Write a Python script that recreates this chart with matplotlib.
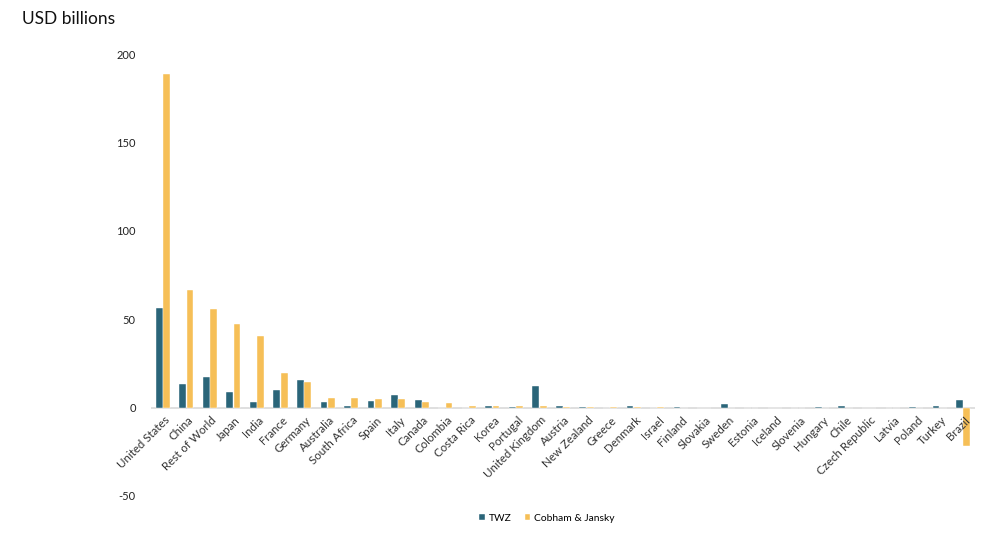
import numpy as np
import matplotlib.pyplot as plt

plt.rcParams['font.family'] = ['Lato', 'DejaVu Sans']

countries = ["United States", "China", "Rest of World", "Japan", "India", "France",
             "Germany", "Australia", "South Africa", "Spain", "Italy", "Canada",
             "Colombia", "Costa Rica", "Korea", "Portugal", "United Kingdom", "Austria",
             "New Zealand", "Greece", "Denmark", "Israel", "Finland", "Slovakia",
             "Sweden", "Estonia", "Iceland", "Slovenia", "Hungary", "Chile",
             "Czech Republic", "Latvia", "Poland", "Turkey", "Brazil"]
twz = [56.5, 13.6, 17.5, 9.0, 3.0, 10.2, 15.8, 3.4, 1.0, 4.0, 7.0, 4.5,
       0.0, 0.0, 0.8, 0.3, 12.0, 0.7, 0.3, 0.0, 0.7, 0.0, 0.3, 0.0,
       1.8, 0.0, 0.0, 0.0, 0.3, 0.8, 0.0, 0.0, 0.6, 0.8, 4.1]
cj = [188.7, 66.7, 56.0, 47.0, 40.7, 19.8, 14.7, 5.6, 5.6, 5.0, 4.7, 3.0,
      2.4, 0.7, 0.8, 0.7, 0.7, 0.3, 0.3, 0.3, 0.3, 0.3, 0.0, 0.0,
      0.0, 0.0, 0.0, 0.0, 0.0, 0.0, 0.0, 0.0, 0.0, -0.5, -22.0]

c_twz = '#2a6579'
c_cj = '#f6bf57'

fig = plt.figure(figsize=(10, 5.39), dpi=100)
ax = fig.add_axes([0.151, 0.0798, 0.824, 0.82])

x = np.arange(len(countries))
w = 0.29
ax.bar(x - w / 2 - 0.01, twz, w, color=c_twz, edgecolor='white', linewidth=0.3, label='TWZ')
ax.bar(x + w / 2 + 0.01, cj, w, color=c_cj, edgecolor='white', linewidth=0.3, label='Cobham & Jansky')

ax.axhline(0, color='#d9d9d9', linewidth=1.2, zorder=0)
ax.set_xlim(-0.5, len(countries) - 0.5)
ax.set_ylim(-50, 200)
ax.set_yticks([-50, 0, 50, 100, 150, 200])
ax.set_yticklabels(['-50', '0', '50', '100', '150', '200'])
ax.tick_params(axis='y', length=0, pad=11, labelsize=8, colors='#222222')
ax.set_xticks([])
for s in ax.spines.values():
    s.set_visible(False)

# country labels hang from the zero line
for xi, name in zip(x, countries):
    ax.annotate(name, xy=(xi + 0.05, 0), xytext=(0, -5), textcoords='offset points',
                rotation=45, ha='right', va='top', rotation_mode='anchor',
                fontsize=8.3, color='#333333')

fig.text(0.022, 0.965, 'USD billions', fontsize=12.5, color='#111111', va='center')

h, l = ax.get_legend_handles_labels()
fig.legend(h, l, loc='center', bbox_to_anchor=(0.547, 0.038), ncol=2, frameon=False,
           fontsize=7.4, handlelength=0.55, handleheight=0.55, handletextpad=0.35,
           columnspacing=1.3)

fig.savefig('out.png', dpi=100)
